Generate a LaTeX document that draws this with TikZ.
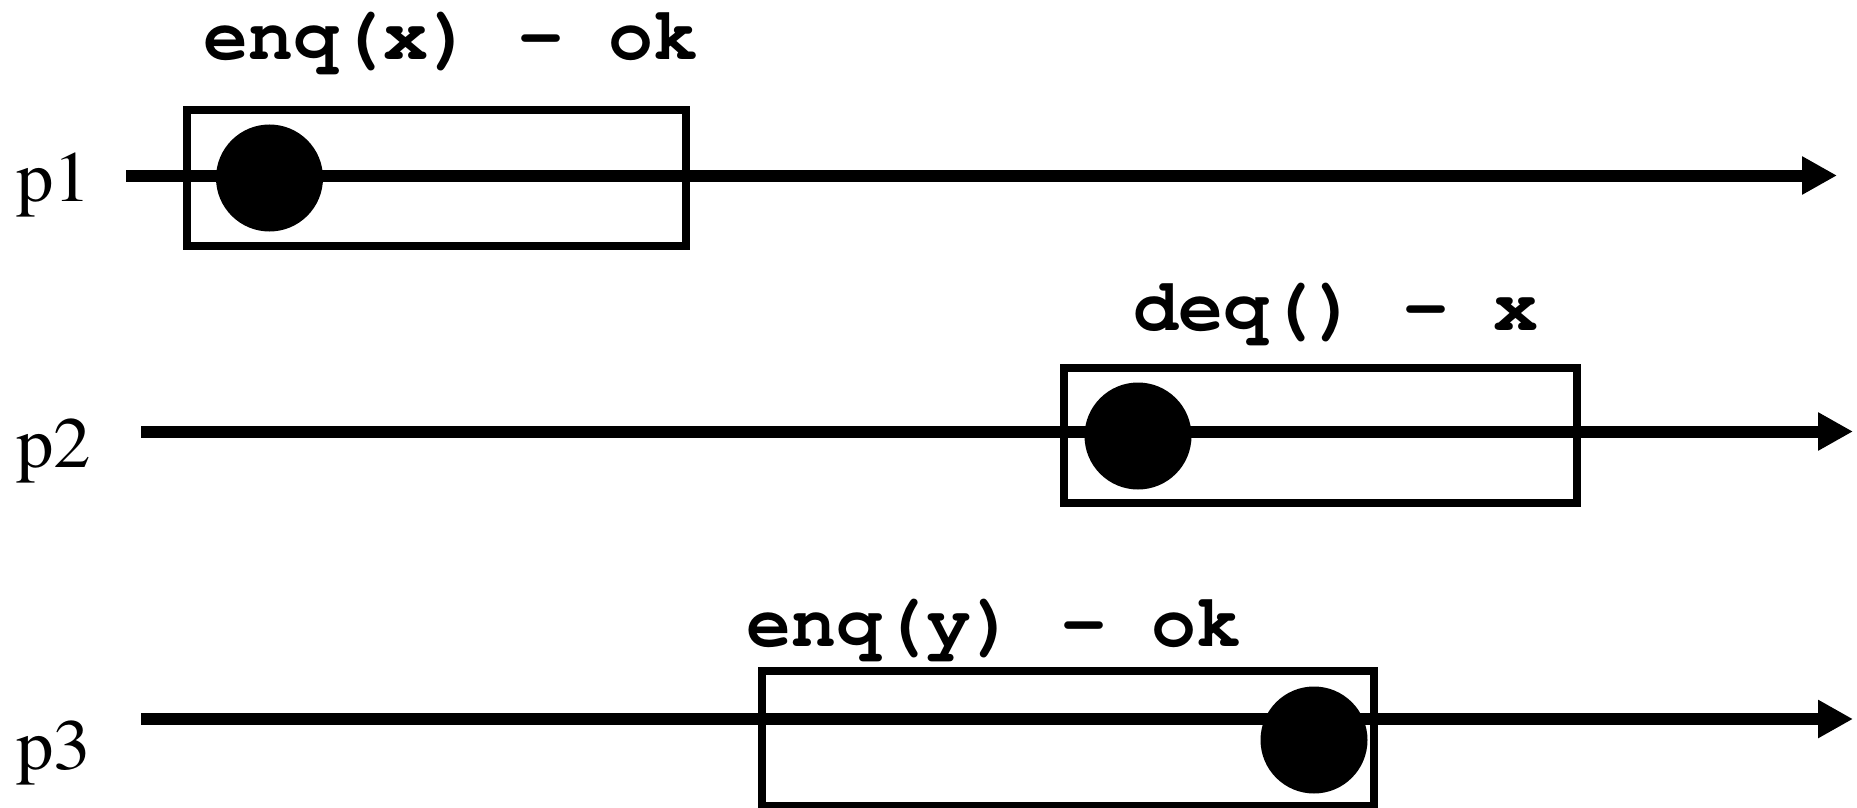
\documentclass[tikz,border=0pt]{standalone}
\usepackage[T1]{fontenc}
\usepackage{times}
\usetikzlibrary{arrows.meta}
\tikzset{
  axisline/.style={line width=6pt,-{Triangle[length=17.5pt,width=18pt]}},
  opbox/.style={draw,line width=4pt,rectangle,inner sep=0pt,minimum height=67.75pt},
  evdot/.style={fill=black,circle,inner sep=0pt,minimum size=53.5pt},
  oplabel/.style={anchor=base west,inner sep=0pt,font=\fontsize{37.5}{40}\selectfont\ttfamily\bfseries},
  plabel/.style={anchor=base west,inner sep=0pt,font=\fontsize{36}{40}\selectfont\rmfamily}
}
\begin{document}
\begin{tikzpicture}[x=0.5pt,y=-0.5pt]
\useasboundingbox (0,0) rectangle (1857,808);
% process labels
\node[plabel] (l1) at (16,201) {\scalebox{1.04}[1]{p1}};
\node[plabel] (l2) at (16,467) {\scalebox{1.04}[1]{p2}};
\node[plabel] (l3) at (16,769) {\scalebox{1.04}[1]{p3}};
% axis endpoints
\coordinate (s1) at (126,175.5);
\coordinate (e1) at (1837,175.5);
\coordinate (s2) at (141,431.5);
\coordinate (e2) at (1853,431.5);
\coordinate (s3) at (141,719);
\coordinate (e3) at (1853,719);
% boxes
\node[opbox,minimum width=249.5pt] (b1) at (436.5,178.25) {};
\node[opbox,minimum width=256.5pt] (b2) at (1320.5,435.25) {};
\node[opbox,minimum width=305.75pt] (b3) at (1067.75,738.25) {};
% axes
\draw[axisline] (s1) -- (e1);
\draw[axisline] (s2) -- (e2);
\draw[axisline] (s3) -- (e3);
% dots
\node[evdot] (d1) at (269.5,178) {};
\node[evdot] (d2) at (1138,436) {};
\node[evdot] (d3) at (1314,740) {};
% operation labels
\node[oplabel] (t1) at (203,60) {enq(x) - ok};
\node[oplabel] (t2) at (1133,330) {deq() - x};
\node[oplabel] (t3) at (746,646) {enq(y) - ok};
\end{tikzpicture}
\end{document}
